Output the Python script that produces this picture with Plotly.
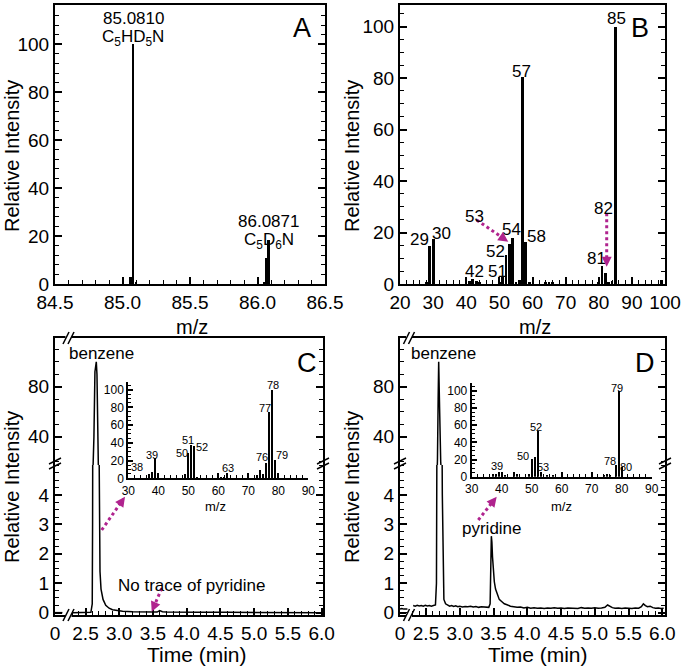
import plotly.graph_objects as go

W, H = 685, 669
FONT = "Liberation Sans, Arial, sans-serif"
MAG = "#b0238e"

# ---------------- data ----------------
# Panel A: high-resolution mass spectrum
a_mz = [85.060, 85.080, 85.100, 86.050, 86.068, 86.083]
a_int = [2.8, 100.0, 1.0, 0.5, 10.7, 18.2]

# Panel B: mass spectrum
b_mz = [28, 29, 30, 41, 42, 43, 44, 50, 51, 52, 53, 54, 55, 56, 57, 58, 59,
        64, 65, 66, 80, 81, 82, 83, 84, 85, 99]
b_int = [0.5, 14.9, 17.5, 1.0, 1.8, 1.2, 0.6, 0.5, 3.1, 11.3, 15.5, 17.8, 0.6,
         1.5, 80.5, 16.5, 0.4, 0.4, 0.5, 0.4, 0.4, 7.1, 4.2, 0.6, 1.2, 100.0, 1.5]
b_labeled = [29, 30, 42, 51, 52, 53, 54, 57, 58, 81, 82, 85]

# Panel C: chromatogram (time in min, relative intensity)
c_pre_t = [0.0, 2.0]
c_pre_i = [0.0, 0.0]
c_t = [2.31, 2.45, 2.58, 2.600, 2.605, 2.615, 2.625, 2.640, 2.650, 2.660, 2.670,
       2.680, 2.690, 2.700, 2.705, 2.715, 2.730, 2.760, 2.800, 2.850, 2.900,
       2.970, 3.050, 3.200, 3.400, 3.560, 3.600, 3.640, 3.700, 3.900, 4.200,
       4.600, 5.000, 5.400, 5.800, 6.020]
c_i = [0.00, 0.00, 0.01, 0.3, 3.0, 15, 40, 92, 99, 100, 90, 40, 18, 6, 3.0, 1.4,
       0.8, 0.45, 0.25, 0.15, 0.10, 0.07, 0.05, 0.03, 0.02, 0.02, 0.07, 0.03,
       0.02, 0.01, 0.01, 0.01, 0.01, 0.0, 0.0, 0.0]

# Panel C inset: mass spectrum of benzene peak
ci_mz = [37, 38, 39, 49, 50, 51, 52, 53, 61, 62, 63, 73, 74, 75, 76, 77, 78, 79, 80]
ci_int = [5, 7.5, 23.8, 5, 29, 37.4, 36.6, 2, 1.5, 1.5, 6.3, 3.7, 9.4, 5, 17.7,
          75.4, 100, 20.7, 1]
ci_labeled = [38, 39, 50, 51, 52, 63, 76, 77, 78, 79]

# Panel D: chromatogram
d_pre_t = [0.0, 0.5, 1.0, 1.5, 2.0]
d_pre_i = [0.12, 0.14, 0.12, 0.13, 0.12]
d_t = [2.31, 2.34, 2.37, 2.40, 2.43, 2.46, 2.49, 2.52, 2.55, 2.58, 2.61, 2.64,
       2.655, 2.662, 2.670, 2.680, 2.688, 2.695, 2.705, 2.718, 2.730, 2.742,
       2.752, 2.765, 2.79, 2.82, 2.85, 2.88, 2.91, 2.94, 2.97, 3.00, 3.04, 3.08,
       3.12, 3.16, 3.20, 3.24, 3.28, 3.32, 3.36, 3.40, 3.43, 3.450, 3.460, 3.468,
       3.476, 3.485, 3.497, 3.512, 3.530, 3.555, 3.585, 3.62, 3.66, 3.70, 3.75,
       3.80, 3.85, 3.90, 3.95, 4.00, 4.05, 4.10, 4.15, 4.20, 4.25, 4.30, 4.35,
       4.40, 4.45, 4.50, 4.55, 4.60, 4.65, 4.70, 4.75, 4.80, 4.85, 4.90, 4.95,
       5.00, 5.05, 5.10, 5.15, 5.19, 5.22, 5.26, 5.30, 5.35, 5.40, 5.45, 5.50,
       5.55, 5.60, 5.65, 5.69, 5.72, 5.75, 5.78, 5.82, 5.86, 5.90, 5.94, 5.98, 6.02]
d_i = [0.24, 0.22, 0.25, 0.23, 0.24, 0.22, 0.25, 0.23, 0.24, 0.22, 0.24, 0.26,
       1.0, 6, 22, 70, 100, 80, 45, 20, 9, 4,
       1.3, 0.45, 0.30, 0.26, 0.22, 0.24, 0.21, 0.23, 0.20, 0.22, 0.19, 0.21,
       0.20, 0.22, 0.19, 0.21, 0.18, 0.20, 0.19, 0.20, 0.18, 0.30, 1.3, 2.6,
       2.4, 1.9, 1.4, 1.05, 0.80, 0.60, 0.45, 0.38, 0.30, 0.27, 0.22,
       0.20, 0.18, 0.19, 0.16, 0.18, 0.15, 0.17, 0.15, 0.16, 0.14, 0.16, 0.15,
       0.17, 0.15, 0.16, 0.14, 0.16, 0.15, 0.16, 0.14, 0.17, 0.15, 0.16, 0.15,
       0.17, 0.15, 0.16, 0.18, 0.26, 0.22, 0.17, 0.15, 0.16, 0.14, 0.16, 0.15,
       0.14, 0.16, 0.15, 0.20, 0.30, 0.24, 0.20, 0.22, 0.17, 0.15, 0.16, 0.14, 0.15]

# Panel D inset: mass spectrum of pyridine peak
di_mz = [37, 38, 39, 41, 44, 45, 49, 50, 51, 52, 53, 55, 57, 74, 75, 76, 78, 79, 80]
di_int = [3, 3, 6, 2, 5, 3, 3, 20.4, 23, 52.7, 5.8, 1, 1, 2, 3, 2, 13.5, 99.5, 11.5]
di_labeled = [39, 50, 52, 53, 78, 79, 80]

time_ticks = ["0", "2.5", "3.0", "3.5", "4.0", "4.5", "5.0", "5.5", "6.0"]

# ---------------- helpers ----------------
def px(x):
    return x / W


def py(y):
    return 1 - y / H


X0C = 2.048   # display position of the "0" tick (panel C)
X0D = 2.115   # display position of the "0" tick (panel D)


def tmap(t, x0):
    # broken time axis: 0..2 min compressed before the break
    return t if t >= 2.25 else x0 + t * 0.055


def chrom_xy(pre_t, pre_i, t, i, x0):
    xs = [tmap(v, x0) for v in pre_t] + [None] + [tmap(v, x0) for v in t]
    ys = list(pre_i) + [None] + list(i)
    return xs, ys


TICKFONT = dict(size=19, family=FONT, color="black")


def axis(**kw):
    d = dict(showline=True, linecolor="black", linewidth=2, ticks="inside",
             ticklen=7, tickwidth=1.5, tickcolor="black", showgrid=False,
             zeroline=False, tickfont=TICKFONT, automargin=False)
    d.update(kw)
    return d


def minor(dt, length=4, tick0=None):
    m = dict(ticks="inside", ticklen=length, tickwidth=1, tickcolor="black",
             dtick=dt, showgrid=False)
    if tick0 is not None:
        m["tick0"] = tick0
    return m


fig = go.Figure()

# A
fig.add_trace(go.Bar(x=a_mz, y=a_int, width=0.014, marker=dict(color="black", line_width=0),
                     xaxis="x", yaxis="y"))
# B
fig.add_trace(go.Bar(x=b_mz, y=b_int, width=0.85, marker=dict(color="black", line_width=0),
                     xaxis="x2", yaxis="y2"))
# C
cx, cy = chrom_xy(c_pre_t, c_pre_i, c_t, c_i, X0C)
for xa, ya in (("x3", "y3"), ("x4", "y4")):
    fig.add_trace(go.Scatter(x=cx, y=cy, mode="lines", line=dict(color="black", width=1.5),
                             xaxis=xa, yaxis=ya))
# D
dx, dy = chrom_xy(d_pre_t, d_pre_i, d_t, d_i, X0D)
for xa, ya in (("x5", "y5"), ("x6", "y6")):
    fig.add_trace(go.Scatter(x=dx, y=dy, mode="lines", line=dict(color="black", width=1.5),
                             xaxis=xa, yaxis=ya))
# insets
fig.add_trace(go.Bar(x=ci_mz, y=ci_int, width=0.9, marker=dict(color="black", line_width=0),
                     xaxis="x7", yaxis="y7"))
fig.add_trace(go.Bar(x=di_mz, y=di_int, width=0.55, marker=dict(color="black", line_width=0),
                     xaxis="x8", yaxis="y8"))

# ---------------- axes ----------------
topA, botA = 5, 284
lay = dict(
    width=W, height=H, showlegend=False, plot_bgcolor="white", paper_bgcolor="white",
    margin=dict(l=0, r=0, t=0, b=0), bargap=0, font=dict(family=FONT, color="black"),
)
lay["xaxis"] = axis(domain=[px(55), px(325)], range=[84.5, 86.5], tick0=84.5, dtick=0.5,
                    tickformat=".1f", minor=minor(0.1), mirror=True, anchor="y")
lay["yaxis"] = axis(domain=[py(botA), py(topA)], range=[0, 116.4], tick0=0, dtick=20,
                    minor=minor(4), mirror="ticks", anchor="x")
lay["xaxis2"] = axis(domain=[px(400), px(665)], range=[20, 100], tick0=20, dtick=10,
                     minor=minor(2), mirror=True, anchor="y2")
lay["yaxis2"] = axis(domain=[py(botA), py(topA)], range=[0, 108.4], tick0=0, dtick=20,
                     minor=minor(5), mirror="ticks", anchor="x2")

low_bot, low_top, up_bot, up_top = 615, 462, 465, 338
for i, (x0, xl, xr, rr) in enumerate(((X0C, 55, 323, 6.02), (X0D, 400, 665, 6.04))):
    lx, ly, ux, uy = 3 + 2 * i, 3 + 2 * i, 4 + 2 * i, 4 + 2 * i
    tv = [x0, 2.5, 3.0, 3.5, 4.0, 4.5, 5.0, 5.5, 6.0]
    lay[f"xaxis{lx}"] = axis(domain=[px(xl), px(xr)], range=[x0, rr], tickmode="array",
                             tickvals=tv, ticktext=time_ticks,
                             minor=dict(ticks="inside", ticklen=4, tickwidth=1, tickcolor="black",
                                        tickvals=[round(2.3 + 0.1 * k, 2) for k in range(38)]),
                             anchor=f"y{ly}")
    lay[f"yaxis{ly}"] = axis(domain=[py(low_bot), py(low_top)], range=[-0.08, 5.12],
                             tickmode="array", tickvals=[0, 1, 2, 3, 4],
                             minor=minor(0.25, tick0=0), mirror="ticks", anchor=f"x{lx}")
    lay[f"xaxis{ux}"] = dict(domain=[px(xl), px(xr)], range=[x0, rr], matches=f"x{lx}",
                             side="top", showline=True, linecolor="black", linewidth=2,
                             ticks="", showticklabels=False, showgrid=False, zeroline=False,
                             anchor=f"y{uy}", automargin=False)
    lay[f"yaxis{uy}"] = axis(domain=[py(up_bot), py(up_top)], range=[17.4, 119],
                             tickmode="array", tickvals=[40, 80],
                             minor=minor(10, tick0=0), mirror="ticks", anchor=f"x{ux}")

INSET_TICK = dict(size=12, family=FONT, color="black")
for k, (xl, yb, yt) in ((7, (128.3, 478.3, 381.7)), (8, (471.7, 476.7, 383.0))):
    lay[f"xaxis{k}"] = axis(domain=[px(xl), px(xl + 180)], range=[30, 90], tick0=30, dtick=10,
                            minor=minor(2, 3), ticklen=5, tickfont=INSET_TICK, anchor=f"y{k}")
    lay[f"yaxis{k}"] = axis(domain=[py(yb), py(yt)], range=[0, 109], tick0=0, dtick=20,
                            minor=minor(5, 3), ticklen=5, tickfont=INSET_TICK, anchor=f"x{k}")

fig.update_layout(**lay)

# ---------------- annotations ----------------
ann = []


def txt(text, x, y, size=18, xref="paper", yref="paper", **kw):
    d = dict(text=text, x=x, y=y, xref=xref, yref=yref, showarrow=False,
             xanchor="center", yanchor="middle",
             font=dict(size=size, family=FONT, color="black"))
    d.update(kw)
    ann.append(d)


def ptxt(text, xp, yp, size=18, **kw):
    txt(text, px(xp), py(yp), size=size, **kw)


# axis titles
for xp, yp in ((12, 156), (352, 156), (12, 487), (352, 487)):
    ptxt("Relative Intensity", xp, yp, size=20, textangle=-90)
for xp in (192, 535):
    ptxt("m/z", xp, 327, size=20)
for xp in (197, 538):
    ptxt("Time (min)", xp, 654, size=21)
# inset m/z titles
ptxt("m/z", 215, 506, size=13)
ptxt("m/z", 561, 506, size=13)

# panel letters
ptxt("A", 301.7, 28.3, size=27)
ptxt("B", 640, 28.3, size=27)
ptxt("C", 306.7, 363.3, size=27)
ptxt("D", 645, 363.3, size=27)

# panel A labels
txt("85.0810", 85.08, 110.8, size=17, xref="x", yref="y")
txt("C<sub>5</sub>HD<sub>5</sub>N", 85.08, 102.5, size=17, xref="x", yref="y")
txt("86.0871", 86.085, 26.0, size=17, xref="x", yref="y")
txt("C<sub>5</sub>D<sub>6</sub>N", 86.085, 17.8, size=17, xref="x", yref="y")

# panel B labels (label offsets in data units)
b_pos = {29: (26.0, 17.1), 30: (32.6, 19.7), 42: (42.6, 4.8), 51: (49.4, 4.8),
         52: (48.7, 12.6), 53: (42.6, 26.2), 54: (53.7, 21.0), 57: (56.7, 82.5),
         58: (61.3, 18.4), 81: (79.4, 10.0), 82: (81.4, 29.4), 85: (85.4, 103.3)}
for m in b_labeled:
    x, y = b_pos[m]
    txt(str(m), x, y, size=17, xref="x2", yref="y2")

# inset labels
ci_pos = {38: (32.8, 13.1), 39: (37.8, 26.4), 50: (47.8, 29), 51: (50.0, 43.4),
          52: (54.5, 35.8), 63: (63.3, 11.3), 76: (74.5, 24.5), 77: (75.6, 79.3),
          78: (78.3, 105.7), 79: (81.1, 26.4)}
for m in ci_labeled:
    x, y = ci_pos[m]
    txt(str(m), x, y, size=11, xref="x7", yref="y7")
di_pos = {39: (38.3, 12.3), 50: (47.2, 23.9), 52: (51.4, 57.7), 53: (53.9, 10.8),
          78: (76.1, 18.5), 79: (78.3, 103), 80: (81.4, 10.8)}
for m in di_labeled:
    x, y = di_pos[m]
    txt(str(m), x, y, size=11, xref="x8", yref="y8")

# chromatogram labels
ptxt("benzene", 101.7, 353.3, size=17)
ptxt("benzene", 443.3, 353.3, size=17)
ptxt("No trace of pyridine", 191.7, 585, size=17)
ptxt("pyridine", 491.7, 528.3, size=17)

# ---------------- arrows ----------------
shapes = []
arrows = [((476.7, 220), (508.3, 241.7)), ((606.7, 213.3), (606.7, 266.7)),
          ((101.7, 530), (125, 496.7)), ((161.7, 588.3), (151.7, 611.7)),
          ((478.3, 520), (496.7, 496.7))]
for (x1, y1), (x2, y2) in arrows:
    L = ((x2 - x1) ** 2 + (y2 - y1) ** 2) ** 0.5
    ux, uy = (x2 - x1) / L, (y2 - y1) / L
    xe, ye = x2 - ux * 4, y2 - uy * 4
    shapes.append(dict(type="line", xref="paper", yref="paper", x0=px(x1), y0=py(y1),
                       x1=px(xe), y1=py(ye), line=dict(color=MAG, width=3, dash="dot")))
    ann.append(dict(x=px(x2), y=py(y2), xref="paper", yref="paper", text="", showarrow=True,
                    ax=-ux * 9, ay=-uy * 9, arrowhead=2, arrowsize=1, arrowwidth=2,
                    arrowcolor=MAG, standoff=0))

# ---------------- break marks ----------------
def ybreak(x, y):
    for d in (-2.5, 2.5):
        shapes.append(dict(type="line", xref="paper", yref="paper",
                           x0=px(x - 6), y0=py(y + d + 3), x1=px(x + 6), y1=py(y + d - 3),
                           line=dict(color="black", width=1.5)))


def xbreak(x, y):
    shapes.append(dict(type="rect", xref="paper", yref="paper", x0=px(x - 3), x1=px(x + 3),
                       y0=py(y + 2), y1=py(y - 2), line=dict(width=0), fillcolor="white"))
    for d in (-2.5, 2.5):
        shapes.append(dict(type="line", xref="paper", yref="paper",
                           x0=px(x + d - 3), y0=py(y + 6), x1=px(x + d + 3), y1=py(y - 6),
                           line=dict(color="black", width=1.5)))


for xl, xr, xb in ((55, 323, 68.5), (400, 665, 409)):
    ybreak(xl, 463.5)
    ybreak(xr, 463.5)
    xbreak(xb, low_bot)
    xbreak(xb, up_top)

fig.update_layout(annotations=ann, shapes=shapes)
fig.write_html("out.html", config={"displayModeBar": False},
               post_script="document.body.style.margin='0';document.body.style.padding='0';")
